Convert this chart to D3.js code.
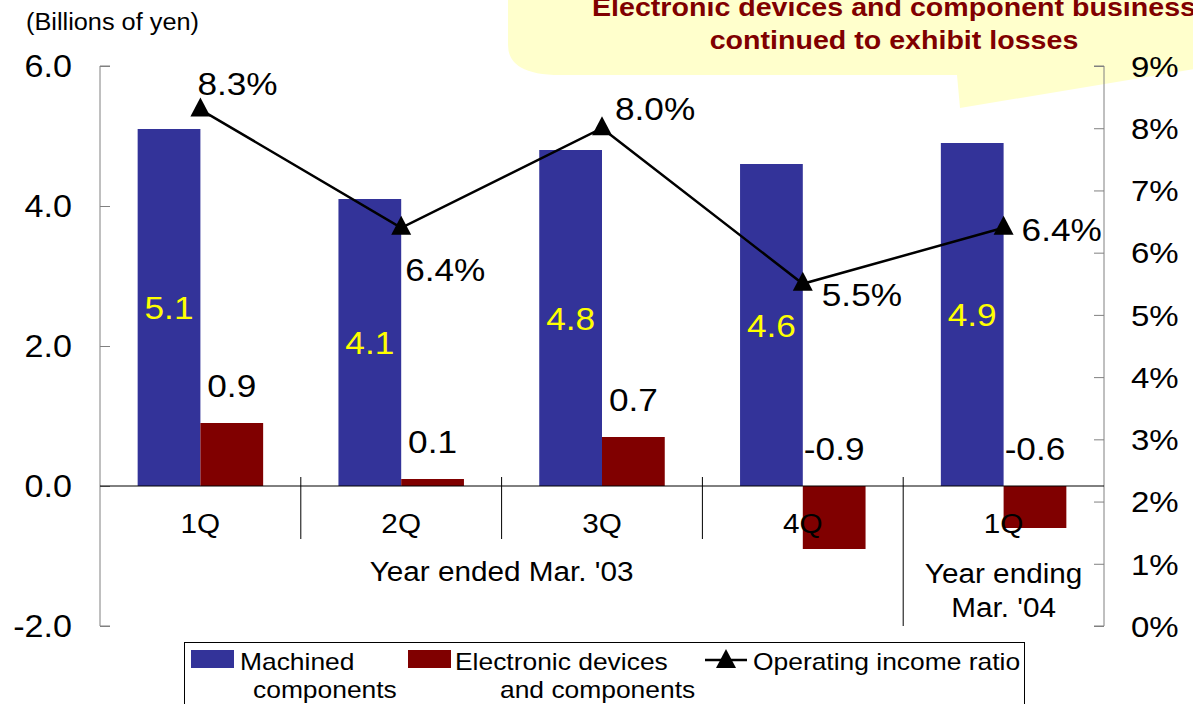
<!DOCTYPE html>
<html>
<head>
<meta charset="utf-8">
<script src="https://cdn.jsdelivr.net/npm/d3@7"></script>
<style>
    body { margin: 0; background: #fff; }
    svg text { font-family: "Liberation Sans", Arial, sans-serif; fill: #000; }
</style>
</head>
<body>
<div id="chart"></div>
<script>
// data
const periods = ["1Q FY03", "2Q FY03", "3Q FY03", "4Q FY03", "1Q FY04"];
const quarterLabels = ["1Q", "2Q", "3Q", "4Q", "1Q"];
const machined = [5.1, 4.1, 4.8, 4.6, 4.9];
const electronic = [0.9, 0.1, 0.7, -0.9, -0.6];
const ratio = [8.3, 6.4, 8.0, 5.5, 6.4];
const leftTicks = [-2, 0, 2, 4, 6];
const rightTicks = [0, 1, 2, 3, 4, 5, 6, 7, 8, 9];
const yearEnded = ["Year ended Mar. '03"];
const yearEnding = ["Year ending", "Mar. '04"];
const seriesNames = ["Machined", "Electronic devices", "Operating income ratio"];
const callout = ["Electronic devices and component business", "continued to exhibit losses"];

// label placement for the ratio labels (dx, dy from marker)
const ratioLabelShift = [[-3, -15], [4, 53], [13, -8], [19, 22], [18, 13]];

const W = 1193, H = 704;
const blue = "#333399", red = "#800000";
const fmt = v => v.toFixed(1);

let svg = d3.select("#chart").append("svg")
    .attr("width", W)
    .attr("height", H);

let plot = {left: 100, right: 1104, top: 66, bottom: 626};

// callout bubble (behind everything)
svg.append("path")
    .attr("d", "M508,-10 L508,45 Q508,75 560,75 L957,75 L960,108 L1200,68 L1200,-10 Z")
    .attr("fill", "#ffffcc");

svg.selectAll(".callout")
    .data(callout)
    .enter().append("text")
    .attr("class", "callout")
    .attr("x", 894)
    .attr("y", (d, i) => 16 + i * 33)
    .attr("text-anchor", "middle")
    .attr("font-size", 26)
    .attr("font-weight", "bold")
    .style("fill", red)
    .text(d => d);

// scales
let x0 = d3.scaleBand()
    .domain(periods)
    .range([plot.left, plot.right]);

let x1 = d3.scaleBand()
    .domain(["machined", "electronic"])
    .range([0, x0.bandwidth()])
    .paddingOuter(0.6);

let yL = d3.scaleLinear().domain([-2, 6]).range([plot.bottom, plot.top]);
let yR = d3.scaleLinear().domain([0, 9]).range([plot.bottom, plot.top]);

// axes
let leftAxis = svg.append("g")
    .attr("transform", `translate(${plot.left},0)`)
    .call(d3.axisRight(yL).tickValues(leftTicks).tickSize(10).tickFormat(""));
leftAxis.selectAll("line, path").attr("stroke", "#808080");
leftAxis.select(".domain").attr("d", `M10,${plot.top}H0V${plot.bottom}H10`);

svg.selectAll(".ltick")
    .data(leftTicks)
    .enter().append("text")
    .attr("x", 72)
    .attr("y", d => yL(d))
    .attr("dy", "0.36em")
    .attr("text-anchor", "end")
    .attr("font-size", 31)
    .text(d => fmt(d));

let rightAxis = svg.append("g")
    .attr("transform", `translate(${plot.right},0)`)
    .call(d3.axisLeft(yR).tickValues(rightTicks).tickSize(10).tickFormat(""));
rightAxis.selectAll("line, path").attr("stroke", "#808080");
rightAxis.select(".domain").attr("d", `M-10,${plot.top}H0V${plot.bottom}H-10`);

svg.selectAll(".rtick")
    .data(rightTicks)
    .enter().append("text")
    .attr("x", 1131)
    .attr("y", d => yR(d))
    .attr("dy", "0.36em")
    .attr("font-size", 30)
    .text(d => d + "%");

svg.append("text")
    .attr("x", 26)
    .attr("y", 30)
    .attr("font-size", 23)
    .text("(Billions of yen)");

// bars
let groups = svg.selectAll(".period")
    .data(periods)
    .enter().append("g")
    .attr("transform", d => `translate(${x0(d)},0)`);

groups.append("rect")
    .attr("x", x1("machined"))
    .attr("width", x1.bandwidth())
    .attr("y", (d, i) => yL(Math.max(0, machined[i])))
    .attr("height", (d, i) => Math.abs(yL(machined[i]) - yL(0)))
    .attr("fill", blue);

groups.append("rect")
    .attr("x", x1("electronic"))
    .attr("width", x1.bandwidth())
    .attr("y", (d, i) => yL(Math.max(0, electronic[i])))
    .attr("height", (d, i) => Math.abs(yL(electronic[i]) - yL(0)))
    .attr("fill", red);

// zero line
svg.append("line")
    .attr("x1", plot.left).attr("x2", plot.right)
    .attr("y1", yL(0)).attr("y2", yL(0))
    .attr("stroke", "#000");

// category dividers
let bounds = periods.slice(1).map(p => x0(p));
svg.selectAll(".divider")
    .data(bounds)
    .enter().append("line")
    .attr("x1", d => d).attr("x2", d => d)
    .attr("y1", yL(0) - 9)
    .attr("y2", (d, i) => i === bounds.length - 1 ? plot.bottom : 539)
    .attr("stroke", "#000");

// category labels
svg.selectAll(".qlabel")
    .data(periods)
    .enter().append("text")
    .attr("x", d => x0(d) + x0.bandwidth() / 2)
    .attr("y", 533)
    .attr("text-anchor", "middle")
    .attr("font-size", 27)
    .text((d, i) => quarterLabels[i]);

svg.selectAll(".yearA")
    .data(yearEnded)
    .enter().append("text")
    .attr("x", (x0(periods[0]) + x0(periods[3]) + x0.bandwidth()) / 2)
    .attr("y", (d, i) => 581 + i * 34)
    .attr("text-anchor", "middle")
    .attr("font-size", 27)
    .text(d => d);

svg.selectAll(".yearB")
    .data(yearEnding)
    .enter().append("text")
    .attr("x", x0(periods[4]) + x0.bandwidth() / 2)
    .attr("y", (d, i) => 583 + i * 34)
    .attr("text-anchor", "middle")
    .attr("font-size", 27)
    .text(d => d);

// bar value labels
groups.append("text")
    .attr("x", x1("machined") + x1.bandwidth() / 2)
    .attr("y", (d, i) => (yL(machined[i]) + yL(0)) / 2)
    .attr("dy", "0.36em")
    .attr("text-anchor", "middle")
    .attr("font-size", 32)
    .style("fill", "#ffff00")
    .text((d, i) => fmt(machined[i]));

groups.append("text")
    .attr("x", x1("electronic") + x1.bandwidth() / 2)
    .attr("y", (d, i) => yL(Math.max(0, electronic[i])) - 26)
    .attr("text-anchor", "middle")
    .attr("font-size", 32)
    .text((d, i) => fmt(electronic[i]));

// ratio line
let cx = d => x0(d) + x0.bandwidth() / 2;
let line = d3.line()
    .x((d, i) => cx(periods[i]))
    .y(d => yR(d));

svg.append("path")
    .datum(ratio)
    .attr("d", line)
    .attr("fill", "none")
    .attr("stroke", "#000")
    .attr("stroke-width", 2.5);

let tri = "M0,-12L10,7L-10,7Z";
svg.selectAll(".marker")
    .data(ratio)
    .enter().append("path")
    .attr("d", tri)
    .attr("transform", (d, i) => `translate(${cx(periods[i])},${yR(d)})`)
    .attr("fill", "#000");

svg.selectAll(".rlabel")
    .data(ratio)
    .enter().append("text")
    .attr("x", (d, i) => cx(periods[i]) + ratioLabelShift[i][0])
    .attr("y", (d, i) => yR(d) + ratioLabelShift[i][1])
    .attr("font-size", 32)
    .text(d => fmt(d) + "%");

// legend
let legend = svg.append("g");
legend.append("rect")
    .attr("x", 184.5).attr("y", 642.5)
    .attr("width", 840).attr("height", 90)
    .attr("fill", "#fff")
    .attr("stroke", "#000");

legend.append("rect")
    .attr("x", 191).attr("y", 650).attr("width", 43).attr("height", 18)
    .attr("fill", blue);
legend.append("text").attr("x", 240).attr("y", 670).attr("font-size", 24).text(seriesNames[0]);
legend.append("text").attr("x", 253).attr("y", 698).attr("font-size", 24).text("components");

legend.append("rect")
    .attr("x", 408).attr("y", 650).attr("width", 43).attr("height", 18)
    .attr("fill", red);
legend.append("text").attr("x", 455).attr("y", 670).attr("font-size", 24).text(seriesNames[1]);
legend.append("text").attr("x", 500).attr("y", 698).attr("font-size", 24).text("and components");

legend.append("line")
    .attr("x1", 705).attr("x2", 747).attr("y1", 660).attr("y2", 660)
    .attr("stroke", "#000").attr("stroke-width", 2.5);
legend.append("path")
    .attr("d", tri)
    .attr("transform", "translate(726,661)")
    .attr("fill", "#000");
legend.append("text").attr("x", 753).attr("y", 670).attr("font-size", 24).text(seriesNames[2]);

// the source text is a little wider than the font; stretch it
svg.selectAll("text").each(function () {
    let len = this.getComputedTextLength();
    d3.select(this)
        .attr("textLength", len * 1.1)
        .attr("lengthAdjust", "spacingAndGlyphs");
});
</script>
</body>
</html>
